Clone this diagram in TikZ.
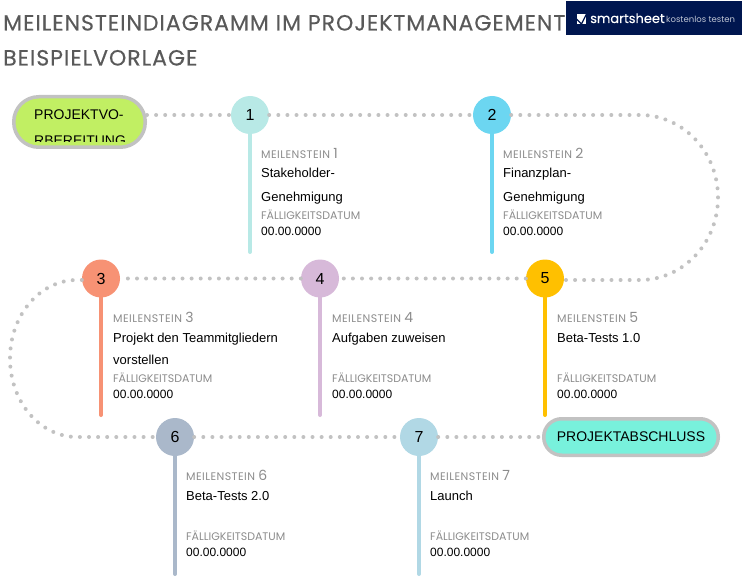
\documentclass[tikz,border=0pt]{standalone}
\usepackage{fontspec}
\setmainfont{Liberation Sans}
\newfontfamily\headfont[LetterSpace=4.5,FakeBold=0.3]{Poppins}
\newfontfamily\metafont{Poppins}
\newfontfamily\metawide[LetterSpace=4]{Poppins}
\newfontfamily\brandfont[FakeBold=0.3]{Poppins}
\usepackage{tikz}
\usetikzlibrary{positioning}
\definecolor{dotgray}{HTML}{C2C2C2}
\definecolor{headgray}{HTML}{595959}
\definecolor{metagray}{HTML}{8C8C8C}
\definecolor{navy}{HTML}{00164F}
\definecolor{cA}{HTML}{B8E9E6}
\definecolor{cB}{HTML}{6CD6F1}
\definecolor{cC}{HTML}{F79274}
\definecolor{cD}{HTML}{D7B9D9}
\definecolor{cE}{HTML}{FFC000}
\definecolor{cF}{HTML}{AAB8CA}
\definecolor{cG}{HTML}{B1D8E5}
\definecolor{limefill}{HTML}{C1EF63}
\definecolor{mintfill}{HTML}{78F1DC}
\newcommand{\msnum}[1]{{\metafont\fontsize{14}{14}\selectfont #1}}
\begin{document}
\begin{tikzpicture}[
        x=1pt, y=1pt,
        on grid,
        vx/.style={circle,minimum size=38pt,inner sep=0pt,font=\fontsize{16}{16}\selectfont},
        pill/.style={draw=dotgray,line width=3.5pt,inner sep=0pt},
        dots/.style={dotgray,line width=4pt,line cap=round,dash pattern=on 0pt off 9.1pt},
        stem/.style={line width=4pt,line cap=round},
        title/.style={anchor=base west,inner sep=0pt,text=headgray,font=\headfont\fontsize{22}{22}\selectfont},
        meta/.style={anchor=base west,inner sep=0pt,text=metagray,font=\metafont\fontsize{11}{11}\selectfont},
        mile/.style={anchor=base west,inner sep=0pt,text=metagray,font=\metawide\fontsize{11}{11}\selectfont},
        txt/.style={anchor=base west,inner sep=0pt,font=\fontsize{13}{13}\selectfont},
        num/.style={anchor=base west,inner sep=0pt,font=\fontsize{12}{12}\selectfont},
        pilltxt/.style={anchor=base west,inner sep=0pt,font=\fontsize{14}{14}\selectfont}
      ]
      \useasboundingbox (0,0) rectangle (743,-577);
      % title and banner
      \node[title] (t1) at (3,-30.5) {MEILENSTEINDIAGRAMM IM PROJEKTMANAGEMENT};
      \node[title] (t2) at (3,-65.5) {BEISPIELVORLAGE};
      \node[fill=navy,minimum width=176pt,minimum height=34pt,inner sep=0pt] (bn) at (654,-18.5) {};
      \node[fill=white,minimum size=9.5pt,inner sep=0pt] (bx) at (581.5,-19) {};
      \node[anchor=base west,inner sep=0pt,text=white,font=\brandfont\fontsize{13}{13}\selectfont] (bs) at (590,-23) {smartsheet};
      \node[anchor=base west,inner sep=0pt,text=white!75!navy,font=\metafont\fontsize{8.5}{8.5}\selectfont] (bk) at (666,-22.5) {kostenlos testen};
      \draw[navy,line width=1.2pt] (bx.west) -- (bx.south) -- (bx.north east);

      % milestones
      \node[vx,fill=cA] (n1) at (250,-115) {1};
      \node[vx,fill=cB] (n2) [right=242pt of n1] {2};
      \node[vx,fill=cC] (n3) at (101,-278.5) {3};
      \node[vx,fill=cD] (n4) [right=219pt of n3] {4};
      \node[vx,fill=cE] (n5) [right=225pt of n4] {5};
      \node[vx,fill=cF] (n6) at (175,-437) {6};
      \node[vx,fill=cG] (n7) [right=244pt of n6] {7};

      % start and end
      \node[pill,rounded corners=25pt,fill=limefill,minimum width=131.5pt,minimum height=50.5pt] (st) at (79.5,-122) {};
      \node[pill,rounded corners=18pt,fill=mintfill,minimum width=174.5pt,minimum height=36.5pt,font=\fontsize{14}{14}\selectfont] (en) at (631,-437) {PROJEKTABSCHLUSS};
      \begin{scope}
        \clip (15,-98) rectangle (144,-141.5);
        \node[pilltxt] (st1) at (34,-120) {PROJEKTVO-};
        \node[pilltxt] (st2) at (34,-146) {RBEREITUNG};
      \end{scope}

      % path
      \coordinate (ca) at (640,-115);
      \coordinate (cb) at (640,-280);
      \coordinate (cc) at (77,-280);
      \draw[dots] (st.east |- n1) -- (n1);
      \draw[dots] (n1) -- (n2);
      \draw[dots] (n2) -- (ca) arc[start angle=90,end angle=-90,x radius=78pt,y radius=82.5pt] -- (n5.east |- cb);
      \draw[dots,yshift=-1.5pt] (n5) -- (n4);
      \draw[dots,yshift=-1.5pt] (n4) -- (n3);
      \draw[dots] (n3.west |- cc) -- (cc) arc[start angle=90,end angle=270,x radius=67pt,y radius=78.5pt] -- (n6);
      \draw[dots] (n6) -- (n7);
      \draw[dots] (n7) -- (en);

      % stems
      \coordinate (e1) at (250,-252);
      \coordinate (e2) at (492,-252);
      \coordinate (e3) at (101,-415);
      \coordinate (e4) at (320,-415);
      \coordinate (e5) at (545,-415);
      \coordinate (e6) at (175,-574);
      \coordinate (e7) at (419,-574);
      \draw[stem,cA] (n1) -- (e1);
      \draw[stem,cB] (n2) -- (e2);
      \draw[stem,cC] (n3) -- (e3);
      \draw[stem,cD] (n4) -- (e4);
      \draw[stem,cE] (n5) -- (e5);
      \draw[stem,cF] (n6) -- (e6);
      \draw[stem,cG] (n7) -- (e7);

      % labels
      \node[mile] (a1) at (261,-159) {MEILENSTEIN \msnum{1}};
      \node[txt] (b1) at (261,-178) {Stakeholder-};
      \node[txt] (c1) at (261,-201) {Genehmigung};
      \node[meta] (d1) at (261,-219) {FÄLLIGKEITSDATUM};
      \node[num] (f1) at (261,-235) {00.00.0000};

      \node[mile] (a2) at (503,-159) {MEILENSTEIN \msnum{2}};
      \node[txt] (b2) at (503,-178) {Finanzplan-};
      \node[txt] (c2) at (503,-201) {Genehmigung};
      \node[meta] (d2) at (503,-219) {FÄLLIGKEITSDATUM};
      \node[num] (f2) at (503,-235) {00.00.0000};

      \node[mile] (a3) at (113,-322) {MEILENSTEIN \msnum{3}};
      \node[txt] (b3) at (113,-342) {Projekt den Teammitgliedern};
      \node[txt] (c3) at (113,-364) {vorstellen};
      \node[meta] (d3) at (113,-382) {FÄLLIGKEITSDATUM};
      \node[num] (f3) at (113,-398) {00.00.0000};

      \node[mile] (a4) at (332,-322) {MEILENSTEIN \msnum{4}};
      \node[txt] (b4) at (332,-342) {Aufgaben zuweisen};
      \node[meta] (d4) at (332,-382) {FÄLLIGKEITSDATUM};
      \node[num] (f4) at (332,-398) {00.00.0000};

      \node[mile] (a5) at (557,-322) {MEILENSTEIN \msnum{5}};
      \node[txt] (b5) at (557,-342) {Beta-Tests 1.0};
      \node[meta] (d5) at (557,-382) {FÄLLIGKEITSDATUM};
      \node[num] (f5) at (557,-398) {00.00.0000};

      \node[mile] (a6) at (186,-480) {MEILENSTEIN \msnum{6}};
      \node[txt] (b6) at (186,-500) {Beta-Tests 2.0};
      \node[meta] (d6) at (186,-540) {FÄLLIGKEITSDATUM};
      \node[num] (f6) at (186,-556) {00.00.0000};

      \node[mile] (a7) at (430,-480) {MEILENSTEIN \msnum{7}};
      \node[txt] (b7) at (430,-500) {Launch};
      \node[meta] (d7) at (430,-540) {FÄLLIGKEITSDATUM};
      \node[num] (f7) at (430,-556) {00.00.0000};
    \end{tikzpicture}
\end{document}
